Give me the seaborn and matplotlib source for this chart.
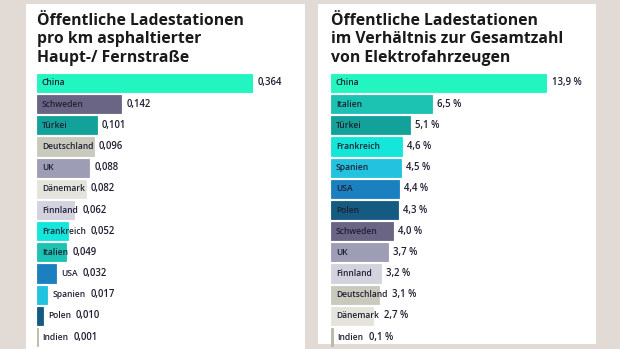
import matplotlib
matplotlib.use("Agg")
import matplotlib.pyplot as plt
import seaborn as sns
import pandas as pd
from matplotlib.patches import Rectangle

# ---------------- data ----------------
left_title = "Öffentliche Ladestationen\npro km asphaltierter\nHaupt-/ Fernstraße"
left_countries = ["China", "Schweden", "Türkei", "Deutschland", "UK", "Dänemark",
                  "Finnland", "Frankreich", "Italien", "USA", "Spanien", "Polen", "Indien"]
left_values = [0.364, 0.142, 0.101, 0.096, 0.088, 0.082, 0.062, 0.052, 0.049,
               0.032, 0.017, 0.010, 0.001]
left_labels = ["0,364", "0,142", "0,101", "0,096", "0,088", "0,082", "0,062",
               "0,052", "0,049", "0,032", "0,017", "0,010", "0,001"]

right_title = "Öffentliche Ladestationen\nim Verhältnis zur Gesamtzahl\nvon Elektrofahrzeugen"
right_countries = ["China", "Italien", "Türkei", "Frankreich", "Spanien", "USA", "Polen",
                   "Schweden", "UK", "Finnland", "Deutschland", "Dänemark", "Indien"]
right_values = [13.9, 6.5, 5.1, 4.6, 4.5, 4.4, 4.3, 4.0, 3.7, 3.2, 3.1, 2.7, 0.1]
right_labels = ["13,9 %", "6,5 %", "5,1 %", "4,6 %", "4,5 %", "4,4 %", "4,3 %",
                "4,0 %", "3,7 %", "3,2 %", "3,1 %", "2,7 %", "0,1 %"]

country_colors = {
    "China": "#22f5bf", "Schweden": "#6a6585", "Türkei": "#13a29a",
    "Deutschland": "#c9cabd", "UK": "#9e9db6", "Dänemark": "#e4e4dc",
    "Finnland": "#d3d3df", "Frankreich": "#14e6da", "Italien": "#1cc2b2",
    "USA": "#1a80c0", "Spanien": "#23c3e0", "Polen": "#155a80", "Indien": "#b9b9a9",
}

# ---------------- figure ----------------
W, H = 620, 349
sns.set_theme(style="white")
plt.rcParams["font.family"] = ["Open Sans", "DejaVu Sans"]
fig = plt.figure(figsize=(W / 100, H / 100), dpi=100)
fig.patch.set_facecolor("#e2dbd5")

def px_rect(x0, y0, x1, y1):
    return (x0 / W, 1 - y1 / H, (x1 - x0) / W, (y1 - y0) / H)

# white panels
for (x0, y0, x1, y1) in [(26, 4, 305, 349), (318, 4, 596, 344)]:
    l, b, w, h = px_rect(x0, y0, x1, y1)
    fig.patches.append(Rectangle((l, b), w, h, transform=fig.transFigure,
                                 facecolor="white", edgecolor="none", zorder=-10))

TXT = "#1f1f33"
row0, step = 83.0, 21.17
n = len(left_countries)

def make_panel(x_left, xmax, countries, values, labels, title):
    top = row0 - step / 2
    bottom = row0 + step * (n - 1) + step / 2
    ax = fig.add_axes(px_rect(x_left, top, x_left + 216, bottom))
    df = pd.DataFrame({"country": countries, "value": values})
    sns.barplot(data=df, x="value", y="country", hue="country", palette=country_colors,
                order=countries, hue_order=countries, orient="h", legend=False,
                width=0.86, ax=ax, edgecolor=None, linewidth=0, saturation=1)
    for p in ax.patches:
        p.set_edgecolor(p.get_facecolor())
        p.set_linewidth(0.6)
    ax.set_xlim(0, xmax)
    ax.set_ylim(n - 0.5, -0.5)
    ax.axis("off")
    ax.patch.set_alpha(0)
    fig.text(x_left / W, 1 - 13 / H, title, ha="left", va="top", fontsize=11.3,
             fontweight="bold", color="#1a1a1a", linespacing=1.2)
    # country labels
    px_per_unit = 216 / xmax
    names = []
    for i, (c, v) in enumerate(zip(countries, values)):
        bar_px = v * px_per_unit
        xref = 0 if bar_px >= 20 else v
        t = ax.annotate(c, xy=(xref, i), xytext=(5, 0), textcoords="offset pixels",
                        ha="left", va="center", fontsize=6.1, fontweight="semibold",
                        color=TXT)
        names.append(t)
    return ax, names

axL, namesL = make_panel(37, 0.364, left_countries, left_values, left_labels, left_title)
axR, namesR = make_panel(331, 13.9, right_countries, right_values, right_labels, right_title)

fig.canvas.draw()
renderer = fig.canvas.get_renderer()
for ax, names, values, labels in [(axL, namesL, left_values, left_labels),
                                  (axR, namesR, right_values, right_labels)]:
    inv = ax.transData.inverted()
    for i, (t, v, lab) in enumerate(zip(names, values, labels)):
        bb = t.get_window_extent(renderer)
        x_text_end = inv.transform((bb.x1, 0))[0]
        xr = max(v, x_text_end)
        ax.annotate(lab, xy=(xr, i), xytext=(5, 0), textcoords="offset pixels",
                    ha="left", va="center", fontsize=6.9, fontweight="semibold",
                    color=TXT)

fig.savefig("out.png", dpi=100, facecolor=fig.get_facecolor())
